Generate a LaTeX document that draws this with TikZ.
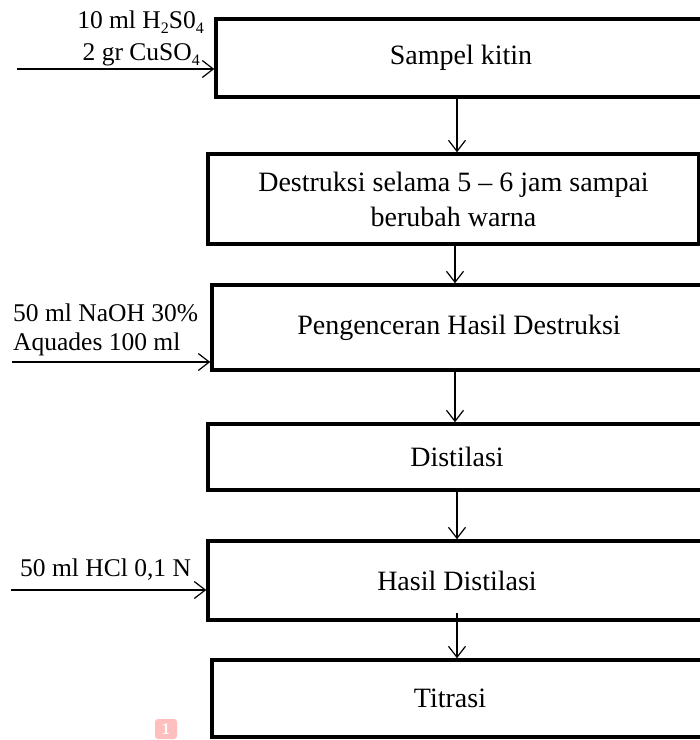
\documentclass[tikz,border=0pt]{standalone}
\usepackage{fontspec}
\setmainfont{Liberation Serif}
\usetikzlibrary{arrows.meta}
\tikzset{
  procbox/.style={draw=black, line width=3.5pt, rectangle, inner sep=0pt, align=center,
    font=\fontsize{28}{35}\selectfont},
  lbl/.style={inner sep=0pt, font=\fontsize{25.5}{30}\selectfont},
  arr/.style={draw=black, line width=1.2pt, -{Straight Barb[length=11pt,width=17pt,line width=1.2pt]}},
}
\newcommand{\sbs}[1]{\raisebox{-0.2em}{\fontsize{16}{19}\selectfont #1}}
\begin{document}
\begin{tikzpicture}[x=1pt,y=-1pt]
\useasboundingbox (0,0) rectangle (700,740);
\clip (0,0) rectangle (700,740);
\fill[white] (0,0) rectangle (700,740);

\node[procbox, minimum width=490pt, minimum height=78pt] (b1) at (461,58) {Sampel kitin};
\node[procbox, minimum width=491pt, minimum height=90pt] (b2) at (453.5,199) {Destruksi selama 5 -- 6 jam sampai\\berubah warna};
\node[procbox, minimum width=494pt, minimum height=85pt] (b3) at (459,327.5) {Pengenceran Hasil Destruksi};
\node[procbox, minimum width=498pt, minimum height=66pt] (b4) at (457,457) {Distilasi};
\node[procbox, minimum width=498pt, minimum height=79pt] (b5) at (457,580.5) {Hasil Distilasi};
\node[procbox, minimum width=494pt, minimum height=77pt, text width=476pt] (b6) at (459,698.5) {\hspace*{-18pt}Titrasi};

% vertical connectors
\draw[arr] (b1.south -| 457,0) -- (b2.north -| 457,0);
\draw[arr] (b2.south -| 455,0) -- (b3.north -| 455,0);
\draw[arr] (b3.south -| 455,0) -- (b4.north -| 455,0);
\draw[arr] (b4.south -| 457,0) -- (b5.north -| 457,0);
\coordinate (s5) at (457,613);
\draw[arr] (s5) -- (b6.north -| s5);

% left inputs
\node[lbl, anchor=base east] (l1) at (204,28) {10 ml H\sbs{2}S0\sbs{4}};
\node[lbl, anchor=base east] (l2) at (200,60) {2 gr CuSO\sbs{4}};
\coordinate (i1) at (17,69);
\draw[arr] (i1) -- (i1 -| b1.west);

\node[lbl, anchor=base west] (l3) at (13,321) {50 ml NaOH 30\%};
\node[lbl, anchor=base west] (l4) at (13,350) {Aquades 100 ml};
\coordinate (i2) at (12,362);
\draw[arr] (i2) -- (i2 -| b3.west);

\node[lbl, anchor=base west] (l5) at (20,576) {50 ml HCl 0,1 N};
\coordinate (i3) at (11,590);
\draw[arr] (i3) -- (i3 -| b5.west);

% small annotation badge
\node[fill=red!25, rounded corners=3pt, text=white, inner sep=0pt, minimum width=22pt, minimum height=20pt,
  font=\sffamily\bfseries\fontsize{15}{16}\selectfont] (badge) at (166,729) {1};
\end{tikzpicture}
\end{document}
